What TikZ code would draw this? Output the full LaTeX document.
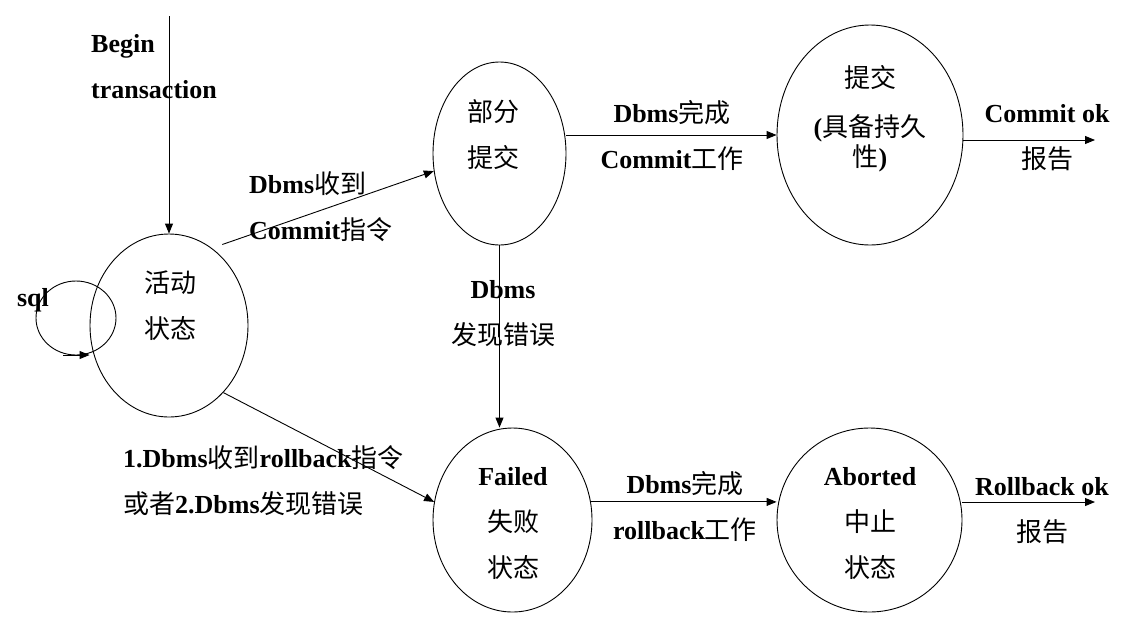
\documentclass[tikz,border=0pt]{standalone}
\usepackage{fontspec}
\setmainfont{Liberation Serif}
\newfontfamily\cjk{Noto Sans CJK SC}
\newcommand\zh[1]{{\cjk\mdseries #1}}
\usetikzlibrary{arrows.meta,shapes.geometric}
\begin{document}
\begin{tikzpicture}[x=1pt,y=-1pt,
  state/.style={draw,ellipse,line width=0.9pt,inner sep=0pt},
  txt/.style={font={\fontsize{26}{46}\selectfont\bfseries},inner sep=0pt,align=center},
  conn/.style={line width=0.9pt,-{Triangle[length=10pt,width=8pt]}}]
\fill[white] (0,0) rectangle (1134,630);
\useasboundingbox (0,0) rectangle (1134,630);

% states
\node[state,minimum width=158pt,minimum height=183pt] (act) at (169,325.5) {};
\node[state,minimum width=133pt,minimum height=183pt] (part) at (499.5,153.5) {};
\node[state,minimum width=186pt,minimum height=220pt] (commit) at (870,135) {};
\node[state,minimum width=159pt,minimum height=184pt] (failed) at (512.5,520) {};
\node[state,minimum width=185pt,minimum height=184pt] (aborted) at (869.5,520) {};
\node[state,minimum width=80pt,minimum height=74pt] (loop) at (76,318) {};

% state texts
\node[txt] (actT) at (170,305.5) {\zh{活动}\\\zh{状态}};
\node[txt] (partT) at (493,134.5) {\zh{部分}\\\zh{提交}};
\node[txt] (commitT) at (870,118.5) {\zh{提交}\\[3pt](\zh{具备持久}\\[-16pt]\zh{性})};
\node[txt] (failedT) at (513,523.5) {Failed\\\zh{失败}\\\zh{状态}};
\node[txt] (abortedT) at (870,523.5) {Aborted\\\zh{中止}\\\zh{状态}};

% labels
\node[txt] (sql) at (33,300) {sql};
\node[txt,align=left,anchor=west] (begin) at (91,66.5) {Begin\\transaction};
\node[txt,align=left,anchor=west] (lblAP) at (249,206.5) {Dbms\zh{收到}\\Commit\zh{指令}};
\node[txt] (lblPC) at (672,135) {Dbms\zh{完成}\\Commit\zh{工作}};
\node[txt] (lblCO) at (1047,138) {Commit ok\\\zh{报告}};
\node[txt] (lblPF) at (503,314) {Dbms\\\zh{发现错误}};
\node[txt,align=left,anchor=west] (lblAF) at (123,481) {1.Dbms\zh{收到}rollback\zh{指令}\\\zh{或者}2.Dbms\zh{发现错误}};
\node[txt] (lblFA) at (685,506) {Dbms\zh{完成}\\rollback\zh{工作}};
\node[txt] (lblRO) at (1042,511) {Rollback ok\\\zh{报告}};

% connectors
\coordinate (bt) at (169,16);
\draw[conn] (bt) -- (act.north);
\draw[conn,shorten <=11pt] (act.61) -- (part.195);
\draw[conn] (act.-51) -- (failed.167);
\draw[conn] (commit.west -| part.east) -- (commit.west);
\coordinate (cok) at (1095,140);
\draw[conn] (cok -| commit.east) -- (cok);
\draw[conn] (part.south) -- (part.south |- failed.north);
\draw[conn] (failed.13) -- (failed.13 -| aborted.west);
\coordinate (rok) at (1095,502);
\draw[conn] (rok -| aborted.east) -- (rok);
\coordinate (ls) at (63,355);
\draw[conn] (ls) -- (ls -| act.west);
\end{tikzpicture}
\end{document}
